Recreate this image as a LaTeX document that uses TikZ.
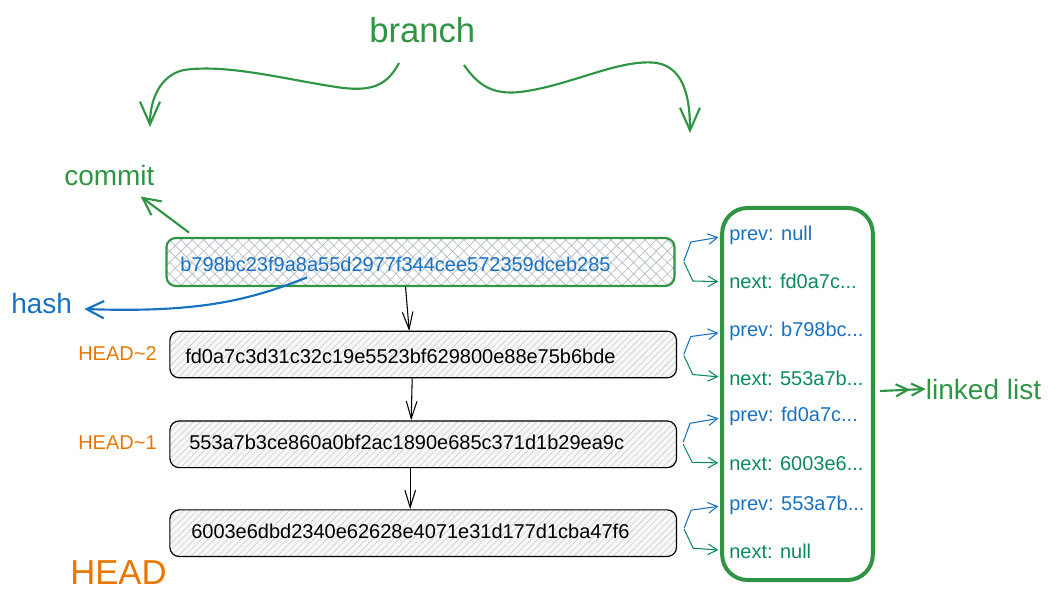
\documentclass[tikz,border=0pt]{standalone}
\usepackage{fontspec}
\setmainfont{Liberation Sans}
\usetikzlibrary{arrows.meta,patterns.meta,calc}
\definecolor{xgreen}{HTML}{2F9444}
\definecolor{xblue}{HTML}{1971C2}
\definecolor{xteal}{HTML}{0C8A5C}
\definecolor{xorange}{HTML}{E67700}
\definecolor{hatchgray}{HTML}{BCC2CB}
\begin{document}
\begin{tikzpicture}[x=0.75pt,y=-0.75pt,
  bigbarb/.style={-{Straight Barb[length=17pt,width=15pt]}},
  midbarb/.style={-{Straight Barb[length=13pt,width=13pt]}},
  blackbarb/.style={-{Straight Barb[length=13pt,width=8pt]}},
  smallbarb/.style={-{Straight Barb[length=7pt,width=8pt]}},
  commitbox/.style={draw, rounded corners=7pt, minimum width=380pt, minimum height=35pt,
    line width=0.9pt, preaction={fill=gray!6},
    pattern={Lines[angle=45,distance=3.5pt,line width=0.35pt]}, pattern color=gray!45},
  headbox/.style={draw=xgreen, rounded corners=7pt, minimum width=381pt, minimum height=36pt,
    line width=1.6pt, preaction={fill=white},
    pattern={Hatch[angle=45,distance=6pt,line width=0.6pt]}, pattern color=hatchgray},
  listbox/.style={draw=xgreen, rounded corners=19pt, minimum width=113pt, minimum height=279pt,
    line width=3pt},
  hashtext/.style={font=\fontsize{15}{18}\selectfont, anchor=base west, inner sep=0pt},
  lltext/.style={font=\fontsize{15}{18}\selectfont, anchor=base west, inner sep=0pt},
  bigtext/.style={font=\fontsize{21}{25}\selectfont, anchor=base west, inner sep=0pt},
  hugetext/.style={font=\fontsize{26}{30}\selectfont, anchor=base west, inner sep=0pt},
  brancharr/.style={bigbarb, draw=xgreen, line width=1.6pt},
  greenarr/.style={midbarb, draw=xgreen, line width=1.6pt},
  bluearr/.style={midbarb, draw=xblue, line width=1.6pt},
  blackarr/.style={blackbarb, draw=black, line width=0.8pt},
  prevarr/.style={smallbarb, draw=xblue, line width=0.8pt, shorten >=8pt},
  nextarr/.style={smallbarb, draw=xteal, line width=0.8pt, shorten >=8pt}
]
\useasboundingbox (0,0) rectangle (1050,602);

% title
\node[hugetext, text=xgreen] (br) at (369,43) {branch};
\coordinate (brl) at (399,63);
\coordinate (brr) at (464,65);
\coordinate (brlt) at (150,127);
\coordinate (brrt) at (690,133);
\draw[brancharr] (brl) .. controls (385,90) and (365,92) .. (330,86)
   .. controls (280,78) and (225,64) .. (184,70)
   .. controls (160,75) and (150,100) .. (brlt);
\draw[brancharr] (brr) .. controls (478,85) and (492,95) .. (520,92)
   .. controls (570,86) and (620,58) .. (657,63)
   .. controls (685,68) and (690,100) .. (brrt);

% commits
\node[headbox] (c1) at (420.5,262) {};
\node[hashtext, text=xblue] (t1) at (180,271.5) {b798bc23f9a8a55d2977f344cee572359dceb285};
\node[commitbox] (c2) at (423.2,354.5) {};
\node[hashtext] (t2) at (185,363.5) {fd0a7c3d31c32c19e5523bf629800e88e75b6bde};
\node[commitbox] (c3) at (423.2,444.3) {};
\node[hashtext] (t3) at (189,449.3) {553a7b3ce860a0bf2ac1890e685c371d1b29ea9c};
\node[commitbox] (c4) at (423.2,533.2) {};
\node[hashtext] (t4) at (191,538.3) {6003e6dbd2340e62628e4071e31d177d1cba47f6};

\draw[blackarr] ($(c1.south)+(-15,0)$) -- ($(c2.north)+(-14,0)$);
\draw[blackarr] ($(c2.south)+(-11,0)$) -- ($(c3.north)+(-12,0)$);
\draw[blackarr] ($(c3.south)+(-13,0)$) -- ($(c4.north)+(-13,0)$);

% labels on the left
\node[bigtext, text=xgreen] (cm) at (64,186) {commit};
\coordinate (cmtip) at ($(cm.south east)+(-14,10)$);
\draw[greenarr] ($(c1.north west)+(23,-5)$) -- (cmtip);

\node[bigtext, text=xblue] (hs) at (11,314) {hash};
\coordinate (hstip) at ($(hs.east)+(12,5)$);
\draw[bluearr] ($(c1.south west)+(141,-9)$) .. controls (250,300) and (200,313) .. (hstip);

\node[lltext, text=xorange] (h2) at (78,360.4) {HEAD\textasciitilde 2};
\node[lltext, text=xorange] (h1) at (78,449.3) {HEAD\textasciitilde 1};
\node[hugetext, text=xorange] (h0) at (70,584.6) {HEAD};

% linked list
\node[listbox] (ll) at (797.5,394) {};
\node[lltext, text=xblue] (p1) at (729,240.7) {prev: null};
\node[lltext, text=xteal] (n1) at (729,289) {next: fd0a7c...};
\node[lltext, text=xblue] (p2) at (729,336.7) {prev: b798bc...};
\node[lltext, text=xteal] (n2) at (729,385) {next: 553a7b...};
\node[lltext, text=xblue] (p3) at (729,421.7) {prev: fd0a7c...};
\node[lltext, text=xteal] (n3) at (729,470) {next: 6003e6...};
\node[lltext, text=xblue] (p4) at (729,510) {prev: 553a7b...};
\node[lltext, text=xteal] (n4) at (729,558) {next: null};

\draw[prevarr] ($(c1.east)+(9,-1)$) -- ++(7,-19) -- (p1.west);
\draw[nextarr] ($(c1.east)+(9,0)$) -- ++(9,19) -- (n1.west);
\draw[prevarr] ($(c2.east)+(7,0)$) -- ++(7,-18) -- (p2.west);
\draw[nextarr] ($(c2.east)+(7,1)$) -- ++(9,19) -- (n2.west);
\draw[prevarr] ($(c3.east)+(6,-2)$) -- ++(7,-19) -- (p3.west);
\draw[nextarr] ($(c3.east)+(6,0)$) -- ++(9,18) -- (n3.west);
\draw[prevarr] ($(c4.east)+(7,-5)$) -- ++(7,-18) -- (p4.west);
\draw[nextarr] ($(c4.east)+(7,-4)$) -- ++(9,19) -- (n4.west);

\node[bigtext, text=xgreen] (lk) at (925.7,399) {linked list};
\draw[greenarr, -{Straight Barb[length=9pt,width=9pt] Straight Barb[length=9pt,width=9pt]}] ($(ll.east)+(5,-3)$) -- (lk.west);
\end{tikzpicture}
\end{document}
